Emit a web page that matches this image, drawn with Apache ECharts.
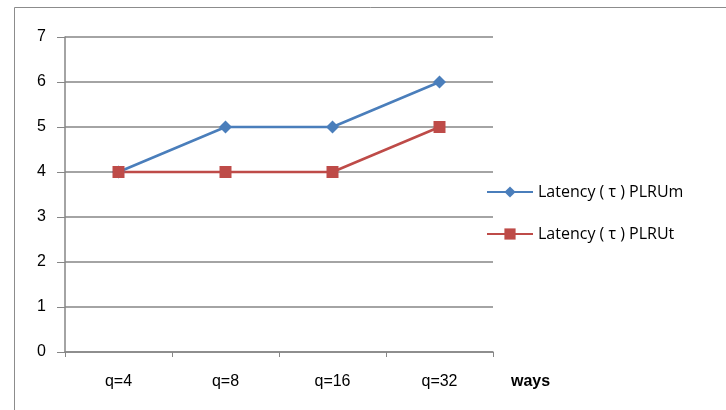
<!DOCTYPE html>
<html><head><meta charset="utf-8">
<script src="https://cdn.jsdelivr.net/npm/echarts@6/dist/echarts.min.js"></script>
<style>html,body{margin:0;padding:0;background:#fff}#c{width:726px;height:410px}</style>
</head><body><div id="c"></div>
<script>
const categories = ['q=4','q=8','q=16','q=32'];
const plruM = [4,5,5,6];
const plruT = [4,4,4,5];
const seriesNames = ['Latency ( τ ) PLRUm','Latency ( τ ) PLRUt'];
const font = '"Liberation Sans", "DejaVu Sans", sans-serif';
const chart = echarts.init(document.getElementById('c'));
chart.setOption({
  animation:false,
  backgroundColor:'#fff',
  graphic:[{type:'rect',shape:{x:14.5,y:7.5,width:760,height:450},style:{fill:'none',stroke:'#8c8c8c',lineWidth:1},silent:true}],
  grid:{left:65,right:233,top:37,bottom:58,containLabel:false},
  legend:{orient:'vertical',left:481,top:179,itemWidth:46,itemHeight:14,itemGap:26,
    textStyle:{fontFamily:'"Open Sans", "Liberation Sans", sans-serif',fontSize:16,color:'#000'},
    data:seriesNames.map(n=>({name:n}))},
  xAxis:{type:'category',data:categories,boundaryGap:true,name:'ways',nameLocation:'end',nameGap:18,
    nameTextStyle:{fontFamily:font,fontSize:16,fontWeight:'bold',color:'#000',verticalAlign:'top',padding:[22,0,0,0]},
    axisLine:{lineStyle:{color:'#868686',width:1.5}},
    axisTick:{show:true,length:5,lineStyle:{color:'#868686'}},
    axisLabel:{fontFamily:font,fontSize:16,color:'#000',margin:22}},
  yAxis:{type:'value',min:0,max:7,interval:1,
    axisLine:{show:true,lineStyle:{color:'#868686',width:1.5}},
    axisTick:{show:true,length:8,lineStyle:{color:'#868686'}},
    splitLine:{show:true,lineStyle:{color:'#868686',width:1.5}},
    axisLabel:{fontFamily:font,fontSize:16,color:'#000',margin:19}},
  series:[
    {name:seriesNames[0],type:'line',data:plruM,symbol:'diamond',symbolSize:13,
     lineStyle:{color:'#4a7ebb',width:2.5},itemStyle:{color:'#4a7ebb'}},
    {name:seriesNames[1],type:'line',data:plruT,symbol:'rect',symbolSize:12,
     lineStyle:{color:'#be4b48',width:2.5},itemStyle:{color:'#be4b48'}}
  ]
});
</script></body></html>
